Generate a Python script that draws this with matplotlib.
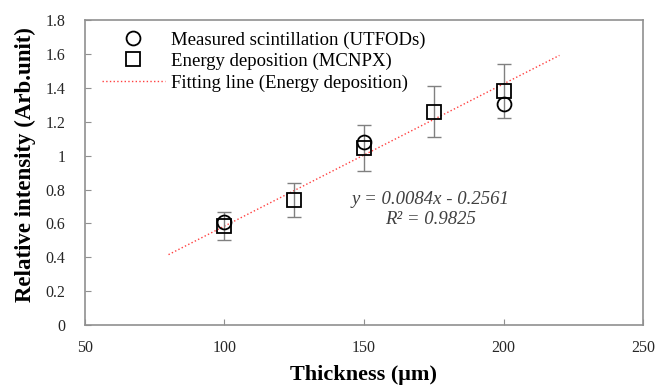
import numpy as np
import matplotlib.pyplot as plt
from matplotlib.legend_handler import HandlerLine2D

plt.rcParams['font.family'] = ['Liberation Serif', 'DejaVu Serif']

# Measured scintillation (UTFODs)
thick_meas = [100, 150, 200]
meas = [0.61, 1.08, 1.305]

# Energy deposition (MCNPX)
thick_mc = [100, 125, 150, 175, 200]
mc = [0.585, 0.74, 1.045, 1.26, 1.38]
mc_err = [0.08, 0.10, 0.135, 0.15, 0.16]

# linear fit reported on the chart
slope, intercept = 0.0084, -0.2561
fit_x = [80, 220]


class LeftMarker(HandlerLine2D):
    # Excel-style legend: marker sits left of centre of the sample
    def get_xdata(self, legend, xdescent, ydescent, width, height, fontsize):
        xdata, xm = super().get_xdata(legend, xdescent, ydescent, width, height, fontsize)
        return xdata, [xdata[0] + 0.25 * (xdata[-1] - xdata[0])]


fig = plt.figure(figsize=(6.57, 3.87), dpi=100)
ax = fig.add_axes([0.129, 0.160, 0.850, 0.788])

ax.errorbar(thick_mc, mc, yerr=mc_err, fmt='none', ecolor='#808080',
            elinewidth=1, capsize=5, capthick=1, zorder=2)
l1, = ax.plot(thick_meas, meas, 'o', mfc='none', mec='black', mew=1.3, ms=10,
              label='Measured scintillation (UTFODs)', zorder=3)
l2, = ax.plot(thick_mc, mc, 's', mfc='none', mec='black', mew=1.3, ms=10,
              label='Energy deposition (MCNPX)', zorder=3)
fx = np.array(fit_x)
ax.plot(fx, slope * fx + intercept, ':', color='#ff4040', lw=1,
        label='Fitting line (Energy deposition)', zorder=1)

ax.text(174, 0.68, 'y = 0.0084x - 0.2561\nR² = 0.9825', ha='center', va='center',
        style='italic', fontsize=13.5, color='#404040', linespacing=1.25)

ax.set_xlim(50, 250)
ax.set_ylim(0, 1.8)
ax.set_xticks([50, 100, 150, 200, 250])
ax.set_yticks(np.arange(0, 1.81, 0.2))
ax.set_yticklabels(['0', '0.2', '0.4', '0.6', '0.8', '1', '1.2', '1.4', '1.6', '1.8'])
ax.tick_params(direction='in', length=4, color='#909090', labelsize=11.5,
               labelcolor='#262626')
ax.tick_params(axis='x', pad=11)
ax.tick_params(axis='y', pad=14)
for s in ax.spines.values():
    s.set_color('#909090')
    s.set_linewidth(1.2)

ax.set_xlabel('Thickness (μm)', fontsize=16, fontweight='bold', labelpad=6)
ax.set_ylabel('Relative intensity (Arb.unit)', fontsize=16.5, fontweight='bold')
ax.yaxis.set_label_coords(-0.088, 0.525)

ax.legend(loc='upper left', bbox_to_anchor=(0.01, 1.0), frameon=False, fontsize=13.5,
          handlelength=3.4, handletextpad=0.3, labelspacing=0.22, borderaxespad=0.2,
          handler_map={l1: LeftMarker(), l2: LeftMarker()})

fig.savefig('out.png', dpi=100)
